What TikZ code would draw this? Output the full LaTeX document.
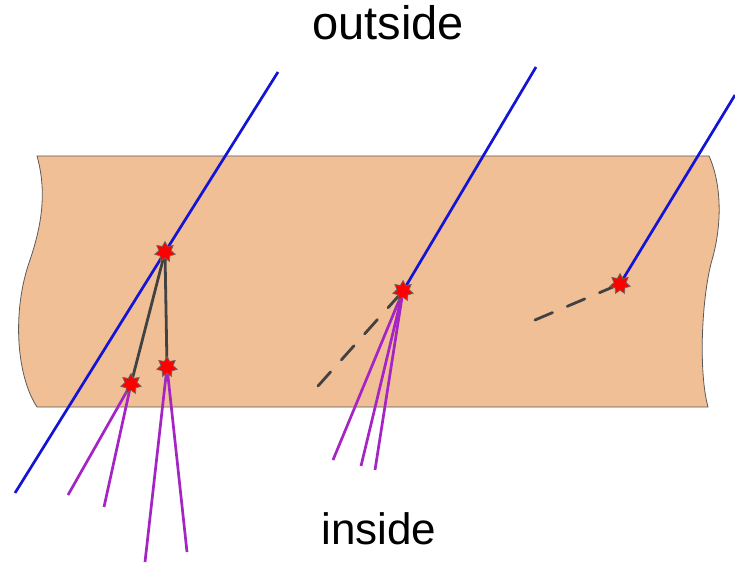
\documentclass[tikz,border=0pt]{standalone}
\usepackage{fontspec}
\newfontfamily\labelfont{Liberation Sans}
\usetikzlibrary{shapes.geometric}
\definecolor{sbSlab}{HTML}{F1BF96}
\definecolor{sbEdge}{HTML}{5A5A5A}
\definecolor{sbTrack}{HTML}{1414D4}
\definecolor{sbHadron}{HTML}{A424C4}
\definecolor{sbSecond}{HTML}{424242}
\definecolor{sbHit}{HTML}{FF0000}
\tikzset{
  slab/.style={draw=sbEdge, fill=sbSlab, line width=0.8pt},
  track/.style={draw=sbTrack, line width=2.7pt},
  secondary/.style={draw=sbSecond, line width=2.8pt},
  ghost/.style={secondary, dash pattern=on 19pt off 16pt, line cap=round},
  shower/.style={draw=sbHadron, line width=2.7pt},
  vertex/.style={
    star, star points=7, star point ratio=1.7, minimum size=21pt, inner sep=0pt,
    fill=sbHit, draw=sbSecond!80, line width=0.7pt
  },
  side/.style={font=\labelfont\fontsize{47}{56}\selectfont, anchor=base, inner sep=0pt}
}
\begin{document}
\begin{tikzpicture}[x=1pt, y=-1pt]
  \useasboundingbox (0,0) rectangle (735,564);
  % slab with wavy cut edges
  \draw[slab] (37,156) -- (709,156)
    .. controls (722,185) and (722,225) .. (712,260)
    .. controls (702,295) and (698,370) .. (708,407)
    -- (37,407)
    .. controls (16,375) and (12,310) .. (30,260)
    .. controls (40,230) and (48,195) .. (37,156) -- cycle;
  % interaction points
  \coordinate (v1) at (165,252);
  \coordinate (v2) at (131,384);
  \coordinate (v3) at (167,367);
  \coordinate (v4) at (403,291);
  \coordinate (v5) at (620,284);
  % track ends
  \coordinate (in1) at (278,72);
  \coordinate (out1) at (15,493);
  \coordinate (in2) at (536,67);
  \coordinate (in3) at (735,95);
  \coordinate (g1) at (318,386);
  \coordinate (g2) at (535,320);
  \coordinate (h1) at (68,495);
  \coordinate (h2) at (104,507);
  \coordinate (h3) at (145,562);
  \coordinate (h4) at (187,552);
  \coordinate (h5) at (333,460);
  \coordinate (h6) at (361,466);
  \coordinate (h7) at (375,470);
  \draw[track] (in1) -- (v1) -- (out1);
  \draw[track] (in2) -- (v4);
  \draw[track] (in3) -- (v5);
  \draw[secondary] (v1) -- (v2);
  \draw[secondary] (v1) -- (v3);
  \draw[ghost] (g1) -- (v4);
  \draw[ghost] (g2) -- (v5);
  \foreach \h in {h1,h2}{\draw[shower] (v2) -- (\h);}
  \foreach \h in {h3,h4}{\draw[shower] (v3) -- (\h);}
  \foreach \h in {h5,h6,h7}{\draw[shower] (v4) -- (\h);}
  \foreach \v in {v1,v2,v3,v4,v5}{\node[vertex] (s\v) at (\v) {};}
  \node[side] (outside) at (388,40) {outside};
  \node[side, font=\labelfont\fontsize{44}{53}\selectfont] (inside) at (379,544) {inside};
\end{tikzpicture}
\end{document}
